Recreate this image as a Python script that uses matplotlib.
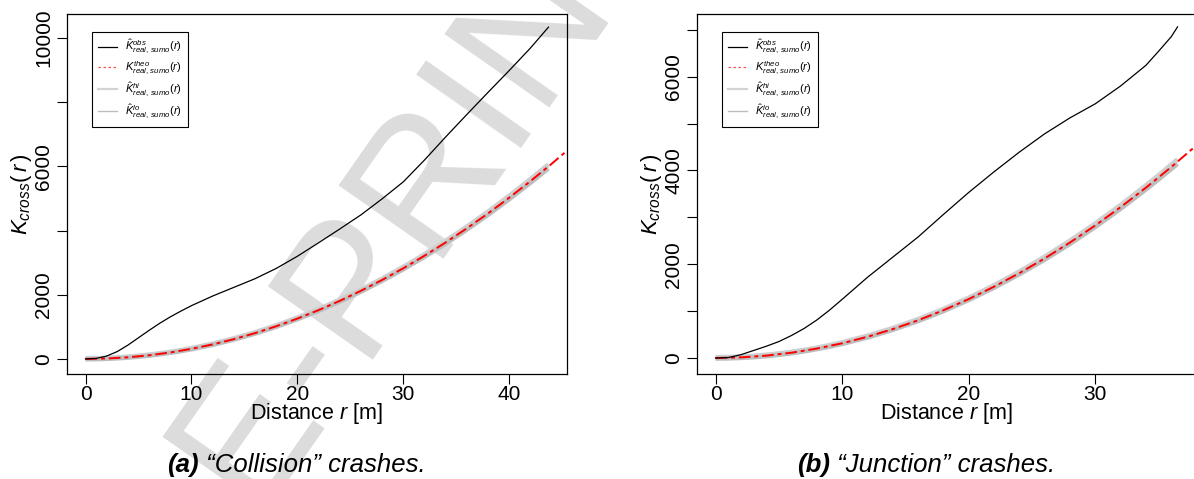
import matplotlib
matplotlib.use("Agg")
import matplotlib.pyplot as plt
from matplotlib.lines import Line2D

plt.rcParams['font.family'] = ['Liberation Sans', 'DejaVu Sans']
plt.rcParams['mathtext.fontset'] = 'custom'
plt.rcParams['mathtext.rm'] = 'Liberation Sans'
plt.rcParams['mathtext.it'] = 'Liberation Sans:italic'
plt.rcParams['mathtext.bf'] = 'Liberation Sans:bold'

# (a) "Collision" crashes
r_a = [0, 1, 2, 3, 4, 5, 6, 7, 8, 9, 10, 12, 14, 16, 18, 20, 22, 24, 26, 28,
       30, 32, 34, 36, 38, 40, 42, 43.7]
obs_a = [0, 15, 90, 230, 430, 660, 890, 1110, 1310, 1490, 1660, 1960, 2230,
         2500, 2820, 3200, 3620, 4050, 4490, 4990, 5520, 6200, 6920, 7620,
         8310, 8990, 9690, 10340]
hi_a = [15, 18, 28, 43, 65, 95, 129, 170, 217, 271, 332, 471, 636, 826, 1041,
        1282, 1548, 1840, 2156, 2498, 2865, 3258, 3676, 4120, 4587, 5082, 5601,
        6058]
lo_a = [-15, -12, -2, 13, 35, 63, 97, 138, 185, 237, 296, 433, 596, 782, 995,
        1232, 1494, 1780, 2092, 2428, 2789, 3176, 3588, 4024, 4485, 4972, 5483,
        5932]
theo_r_a = [0, 2, 4, 6, 8, 10, 12, 14, 16, 18, 20, 22, 24, 26, 28, 30, 32, 34,
            36, 38, 40, 42, 44, 45.5]
theo_a = [0, 13, 50, 113, 201, 314, 452, 616, 804, 1018, 1257, 1521, 1810,
          2124, 2463, 2827, 3217, 3632, 4072, 4536, 5027, 5542, 6082, 6504]

# (b) "Junction" crashes
r_b = [0, 1, 2, 3, 4, 5, 6, 7, 8, 9, 10, 12, 14, 16, 18, 20, 22, 24, 26, 28,
       30, 32, 34, 35, 36, 36.5]
obs_b = [0, 10, 70, 160, 250, 350, 480, 630, 810, 1020, 1250, 1720, 2150,
         2580, 3060, 3530, 3970, 4390, 4780, 5120, 5420, 5800, 6240, 6540,
         6850, 7060]
hi_b = [15, 18, 28, 43, 65, 95, 129, 170, 217, 271, 332, 471, 636, 826, 1041,
        1282, 1548, 1840, 2156, 2498, 2865, 3258, 3676, 3894, 4120, 4233]
lo_b = [-15, -12, -2, 13, 35, 63, 97, 138, 185, 237, 296, 433, 596, 782, 995,
        1232, 1494, 1780, 2092, 2428, 2789, 3176, 3588, 3802, 4024, 4137]
theo_r_b = [0, 2, 4, 6, 8, 10, 12, 14, 16, 18, 20, 22, 24, 26, 28, 30, 32, 34,
            36, 38]
theo_b = [0, 13, 50, 113, 201, 314, 452, 616, 804, 1018, 1257, 1521, 1810,
          2124, 2463, 2827, 3217, 3632, 4072, 4536]

panels = [
    dict(r=r_a, obs=obs_a, hi=hi_a, lo=lo_a, tr=theo_r_a, theo=theo_a,
         xlim=(-1.75, 45.45), ylim=(-470, 10750), yticks=range(0, 10001, 2000),
         ylabels=[0, 2000, 6000, 10000], xticks=[0, 10, 20, 30, 40],
         pos=[0.0561, 0.2192, 0.4188, 0.7516], tag='(a)',
         cap=' \u201cCollision\u201d crashes.', capx=0.140),
    dict(r=r_b, obs=obs_b, hi=hi_b, lo=lo_b, tr=theo_r_b, theo=theo_b,
         xlim=(-1.46, 37.96), ylim=(-341, 7335), yticks=range(0, 7001, 1000),
         ylabels=[0, 2000, 4000, 6000], xticks=[0, 10, 20, 30],
         pos=[0.5838, 0.2192, 0.4179, 0.7516], tag='(b)',
         cap=' \u201cJunction\u201d crashes.', capx=0.6675),
]

fig = plt.figure(figsize=(11.94, 4.79), dpi=100)

# watermark, behind everything
fig.text(0.356, 0.624, 'E-PRINT', fontsize=133, color='#dcdcdc',
         rotation=55, rotation_mode='anchor', ha='center', va='center',
         zorder=-1)

lab_obs = r'$\hat{K}^{obs}_{real,\,sumo}(r)$'
lab_theo = r'$K^{theo}_{real,\,sumo}(r)$'
lab_hi = r'$\hat{K}^{hi}_{real,\,sumo}(r)$'
lab_lo = r'$\hat{K}^{lo}_{real,\,sumo}(r)$'

for p in panels:
    ax = fig.add_axes(p['pos'])
    ax.set_facecolor('none')
    ax.plot(p['r'], p['hi'], color='#cfcfcf', lw=3.5, solid_capstyle='butt')
    ax.plot(p['r'], p['lo'], color='#bdbdbd', lw=3.0, solid_capstyle='butt')
    ax.plot(p['tr'], p['theo'], color='red', lw=1.4, dashes=(6, 2, 2, 2))
    ax.plot(p['r'], p['obs'], color='black', lw=0.9)
    ax.set_xlim(p['xlim'])
    ax.set_ylim(p['ylim'])
    ax.set_xticks(p['xticks'])
    ax.set_yticks(list(p['yticks']))
    ax.set_yticklabels([str(v) if v in p['ylabels'] else '' for v in p['yticks']],
                       rotation=90, va='center')
    ax.tick_params(direction='out', length=7, width=0.8, labelsize=15)
    ax.tick_params(axis='x', pad=1)
    ax.tick_params(axis='y', pad=3)
    for s in ax.spines.values():
        s.set_linewidth(0.9)
    ax.set_xlabel(r'Distance $r$ [m]', fontsize=15.5, labelpad=-2)
    ax.set_ylabel(r'$K_{cross}(\,r\,)$', fontsize=16, labelpad=0)

    handles = [
        Line2D([], [], color='black', lw=0.9),
        Line2D([], [], color='#ff5050', lw=0.9, dashes=(2, 2)),
        Line2D([], [], color='#d3d3d3', lw=1.6),
        Line2D([], [], color='#bdbdbd', lw=1.0),
    ]
    leg = ax.legend(handles, [lab_obs, lab_theo, lab_hi, lab_lo],
                    loc='upper left', bbox_to_anchor=(0.05, 0.95),
                    borderaxespad=0, fontsize=8, frameon=True,
                    fancybox=False, edgecolor='black', framealpha=1,
                    handlelength=1.7, handletextpad=0.7, labelspacing=0.3,
                    borderpad=0.55)
    leg.get_frame().set_linewidth(0.8)

    t1 = fig.text(p['capx'], 0.0146, p['tag'], fontsize=18.5,
                  fontweight='bold', style='italic', ha='left', va='baseline')
    ax.annotate(p['cap'], xy=(1, 0), xycoords=t1, fontsize=18.5,
                style='italic', ha='left', va='bottom',
                annotation_clip=False)

fig.savefig('out.png', dpi=100)
